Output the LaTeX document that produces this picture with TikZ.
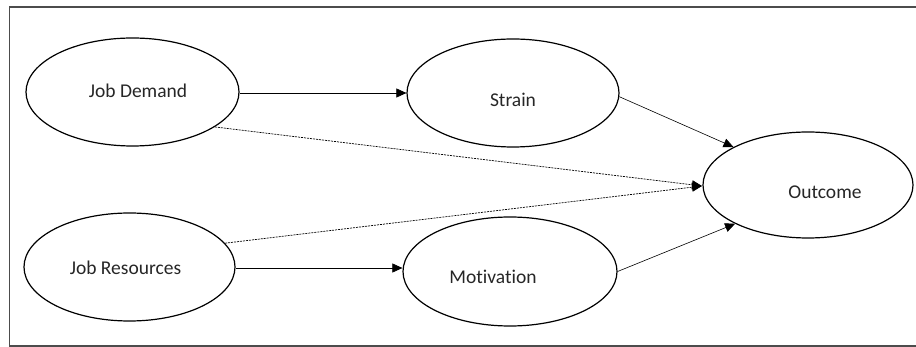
\documentclass[tikz,border=0pt]{standalone}
\usepackage{fontspec}
\setmainfont{Carlito}[Ligatures=NoCommon]
\usetikzlibrary{shapes.geometric,arrows.meta}
\begin{document}
\begin{tikzpicture}[x=1pt,y=-1pt,
  ell/.style={draw=black, line width=1.2pt, ellipse, inner sep=0pt},
  lbl/.style={font=\fontsize{19.5}{22}\selectfont, text=black!85, inner sep=0pt},
  con/.style={line width=0.6pt, -{Triangle[length=10pt,width=9pt]}},
  dcon/.style={line width=0.7pt, dash pattern=on 2pt off 1pt, -{Triangle[length=10pt,width=9pt]}}]
\useasboundingbox (0,0) rectangle (916,347);
\draw[line width=1.3pt, black!70] (916,7) -- (9.5,7) -- (9.5,346) -- (916,346);
% ellipses
\node[ell, minimum width=213pt, minimum height=108pt] (jd) at (132.5,92) {};
\node[ell, minimum width=212pt, minimum height=108pt] (st) at (513,93) {};
\node[ell, minimum width=210pt, minimum height=106pt] (oc) at (808,185) {};
\node[ell, minimum width=211pt, minimum height=108pt] (jr) at (129.5,267) {};
\node[ell, minimum width=214pt, minimum height=109pt] (mo) at (510,271.5) {};
% labels
\node[lbl] (tjd) at (138,91) {Job Demand};
\node[lbl] (tst) at (513,100) {Strain};
\node[lbl] (toc) at (825,192) {Outcome};
\node[lbl] (tjr) at (125.5,268) {Job Resources};
\node[lbl] (tmo) at (493,277) {Motivation};
% connectors
\coordinate (oin) at (702,186);
\draw[con] (jd.east |- 0,93) -- (st.west |- 0,93);
\draw[con] (jr.east |- 0,268) -- (mo.west |- 0,268);
\draw[con] (st.-2) -- (oc.153);
\draw[con] (mo.0) -- (oc.-152);
\draw[dcon] (jd.-23) -- (oin);
\draw[dcon] (jr.14) -- (oin);
\end{tikzpicture}
\end{document}
